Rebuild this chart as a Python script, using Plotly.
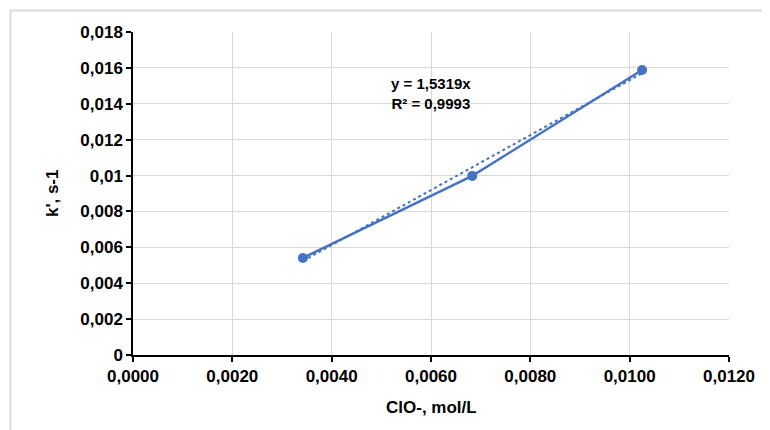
import plotly.graph_objects as go

x_conc = [0.00342, 0.00683, 0.01025]
k_vals = [0.00541, 0.00998, 0.01588]
slope = 1.5319
x_ticks = [0, 0.002, 0.004, 0.006, 0.008, 0.010, 0.012]
x_ticktext = ["0,0000", "0,0020", "0,0040", "0,0060", "0,0080", "0,0100", "0,0120"]
y_ticks = [0, 0.002, 0.004, 0.006, 0.008, 0.010, 0.012, 0.014, 0.016, 0.018]
y_ticktext = ["0", "0,002", "0,004", "0,006", "0,008", "0,01", "0,012", "0,014", "0,016", "0,018"]

blue = "#4472C4"
font_fam = "Liberation Sans, Arial, sans-serif"

fig = go.Figure()
fig.add_trace(go.Scatter(x=x_conc, y=k_vals, mode="lines+markers",
                         line=dict(color=blue, width=2.5),
                         marker=dict(color=blue, size=10), showlegend=False))
trend_x = [min(x_conc), max(x_conc)]
trend_y = [slope * v for v in trend_x]
fig.add_trace(go.Scatter(x=trend_x, y=trend_y, mode="lines",
                         line=dict(color=blue, width=2, dash="dot"), showlegend=False))

ann_font = dict(family=font_fam, size=15, color="#000", weight="bold")
fig.add_annotation(x=0.0060, y=0.01455, xref="x", yref="y",
                   text="y = 1,5319x<br>R² = 0,9993", showarrow=False, font=ann_font,
                   align="center", xanchor="center", yanchor="middle")

# axis titles
title_font = dict(family=font_fam, size=17, color="#000", weight="bold")
fig.add_annotation(x=0.5, y=-0.161, xref="paper", yref="paper",
                   text="ClO-, mol/L", showarrow=False, font=title_font,
                   xanchor="center", yanchor="middle")
fig.add_annotation(x=-0.135, y=0.5, xref="paper", yref="paper",
                   text="k', s-1", showarrow=False, font=title_font, textangle=-90,
                   xanchor="center", yanchor="middle")

fig.add_shape(type="rect", xref="paper", yref="paper",
              x0=-0.2055, x1=1.2, y0=-0.4, y1=1.0666,
              line=dict(color="#d9d9d9", width=2), layer="below")

axis_common = dict(showgrid=True, gridcolor="#d9d9d9", gridwidth=1.3,
                   showline=True, linecolor="#000", linewidth=1.5,
                   ticks="outside", tickcolor="#000", ticklen=5, tickwidth=1.5,
                   zeroline=False, automargin=False,
                   tickfont=dict(family=font_fam, size=17, color="#000", weight="bold"))

fig.update_xaxes(range=[0, 0.012], tickvals=x_ticks, ticktext=x_ticktext, **axis_common)
fig.update_yaxes(range=[0, 0.018], tickvals=y_ticks, ticktext=y_ticktext, **axis_common)

fig.update_layout(width=770, height=430, margin=dict(l=125, r=49, t=24, b=83),
                  plot_bgcolor="white", paper_bgcolor="white")

fig.write_html("out.html")
